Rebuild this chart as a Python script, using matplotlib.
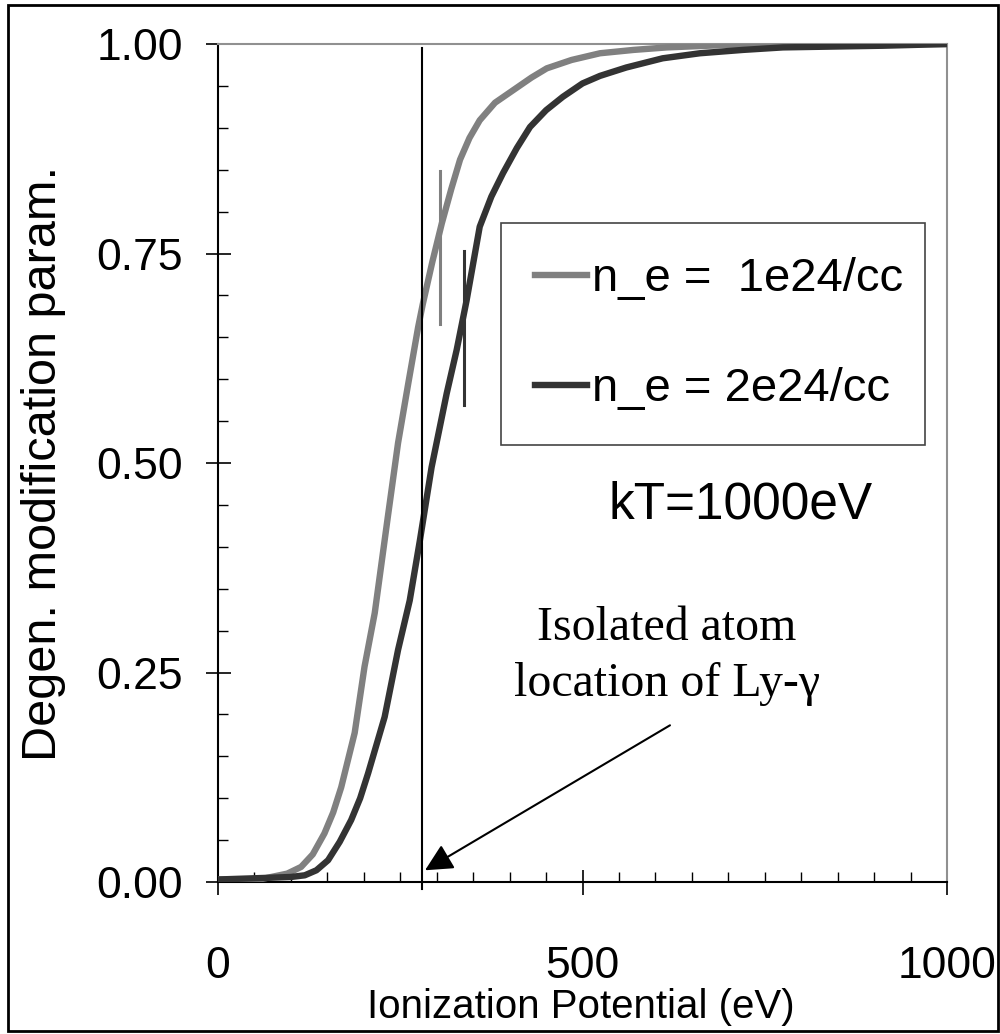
import numpy as np
import matplotlib
matplotlib.use("Agg")
import matplotlib.pyplot as plt
from matplotlib.patches import Rectangle
from matplotlib.ticker import MultipleLocator, FixedLocator

plt.rcParams['font.family'] = ['Liberation Sans', 'DejaVu Sans']

# curves (ionization potential in eV, parameter)
ip_1e24 = [0, 57, 73, 95, 114, 130, 146, 158, 169, 187.5, 201, 215, 233,
           247, 261, 274.5, 281, 294, 307, 320, 332, 345, 359, 380, 405,
           430, 451, 485, 524, 570, 616, 700, 800, 1000]
deg_1e24 = [0.003, 0.003, 0.006, 0.010, 0.018, 0.033, 0.058, 0.083, 0.113,
            0.178, 0.257, 0.321, 0.436, 0.524, 0.595, 0.662, 0.690, 0.740,
            0.786, 0.827, 0.862, 0.888, 0.909, 0.930, 0.945, 0.960, 0.971,
            0.981, 0.989, 0.993, 0.996, 0.999, 1.0, 1.0]

ip_2e24 = [0, 68.6, 100, 119, 135, 151, 167, 182.7, 195, 206, 228.6, 247,
           263, 277, 293, 313.7, 327.4, 341, 359, 375, 391, 410, 428, 450,
           473, 500, 524, 560, 610, 661, 720, 775, 912, 1000]
deg_2e24 = [0.003, 0.005, 0.006, 0.008, 0.014, 0.026, 0.048, 0.074, 0.100,
            0.130, 0.197, 0.277, 0.336, 0.408, 0.495, 0.583, 0.635, 0.694,
            0.782, 0.818, 0.846, 0.876, 0.901, 0.921, 0.937, 0.953, 0.962,
            0.972, 0.983, 0.989, 0.993, 0.996, 0.998, 1.0]

labels = ['n_e =  1e24/cc', 'n_e = 2e24/cc']
colors = ['#808080', '#333333']

ly_gamma = 280            # isolated atom Ly-gamma
marks_x = [304.5, 337.4]  # short vertical markers
marks_lo = [0.666, 0.569]
marks_hi = [0.848, 0.753]

fig = plt.figure(figsize=(10, 10.34), dpi=100)
ax = fig.add_axes([0.218, 0.147, 0.729, 0.8104])

ax.plot(ip_1e24, deg_1e24, color=colors[0], lw=4.6, label=labels[0],
        solid_joinstyle='round', zorder=3)
ax.plot(ip_2e24, deg_2e24, color=colors[1], lw=4.6, label=labels[1],
        solid_joinstyle='round', zorder=3)

ax.plot([ly_gamma, ly_gamma], [-0.008, 0.995], color='black', lw=1.5,
        clip_on=False, zorder=4)
for x, lo, hi, c in zip(marks_x, marks_lo, marks_hi, colors):
    ax.plot([x, x], [lo, hi], color=c, lw=2.2, zorder=4)

ax.set_xlim(0, 1000)
ax.set_ylim(0, 1)
ax.xaxis.set_major_locator(FixedLocator([0, 500, 1000]))
ax.xaxis.set_minor_locator(MultipleLocator(50))
ax.yaxis.set_major_locator(FixedLocator([0, 0.25, 0.5, 0.75, 1.0]))
ax.yaxis.set_minor_locator(MultipleLocator(0.05))
ax.set_yticklabels(['0.00', '0.25', '0.50', '0.75', '1.00'])

ax.tick_params(which='major', direction='inout', length=18, width=1.2,
               labelsize=32)
ax.tick_params(axis='x', which='major', pad=37)
ax.tick_params(axis='y', which='major', pad=16)
ax.tick_params(which='minor', direction='in', length=7.5, width=1.0)

for s in ['left', 'bottom']:
    ax.spines[s].set_linewidth(1.5)
    ax.spines[s].set_color('black')
for s in ['top', 'right']:
    ax.spines[s].set_linewidth(1.5)
    ax.spines[s].set_color('#909090')

ax.set_xlabel('Ionization Potential (eV)', fontsize=29)
ax.set_ylabel('Degen. modification param.', fontsize=35)
ax.xaxis.set_label_coords(0.497, -0.126)
ax.yaxis.set_label_coords(-0.208, 0.5)

leg = ax.legend(loc='upper left', bbox_to_anchor=(0.388, 0.519, 0.582, 0.267),
                mode='expand', borderaxespad=0, fontsize=34,
                handlelength=1.1, handletextpad=0.12, labelspacing=1.4,
                borderpad=0.72, fancybox=False, framealpha=1,
                edgecolor='#444444')
leg.get_frame().set_linewidth(1.2)

ax.text(535, 0.45, 'kT=1000eV', fontsize=37, ha='left', va='center')

ax.text(616, 0.27, 'Isolated atom\nlocation of Ly-\u03b3', fontsize=34.5,
        family=['Liberation Serif', 'DejaVu Serif'], ha='center',
        va='center', linespacing=1.35)
ax.annotate('', xy=(284, 0.014), xytext=(620, 0.187),
            arrowprops=dict(arrowstyle='-|>,head_length=0.7,head_width=0.35',
                            color='black', lw=1.5, mutation_scale=24,
                            shrinkA=0, shrinkB=0))

fig.patches.append(Rectangle((0.008, 0.003), 0.99, 0.992, transform=fig.transFigure,
                             fill=False, edgecolor='black', lw=2))

fig.savefig('out.png', dpi=100)
